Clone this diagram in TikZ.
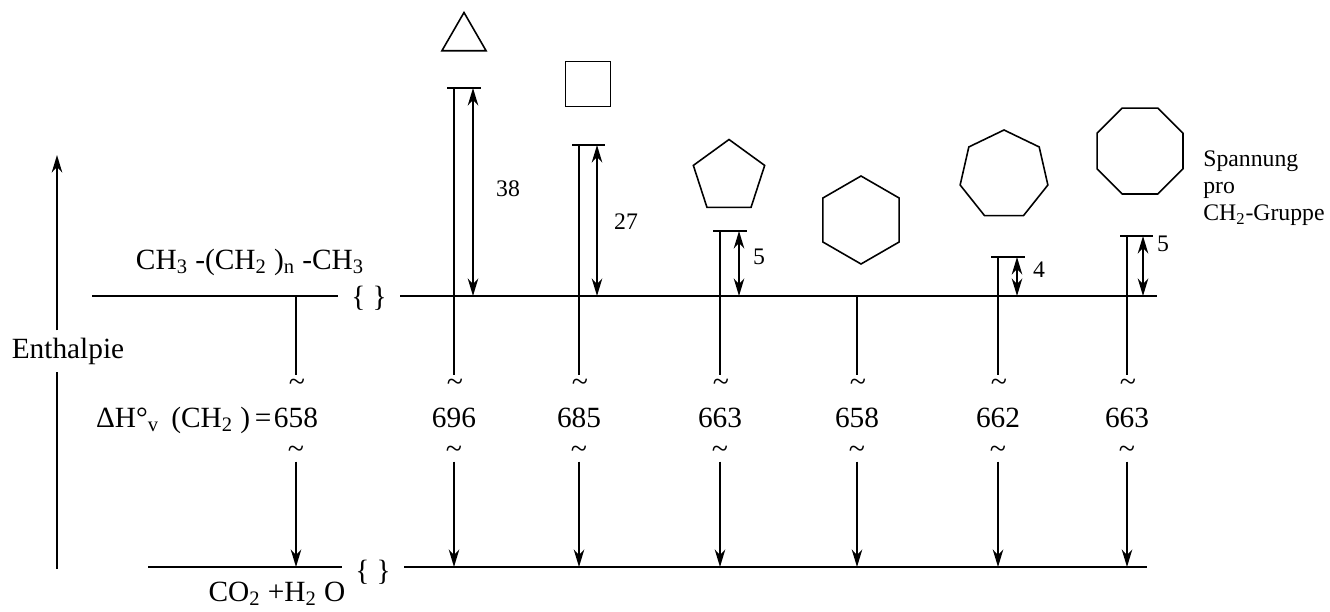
\documentclass[tikz,border=0pt]{standalone}
\usepackage{fontspec}
\setmainfont{Liberation Serif}
\usetikzlibrary{arrows.meta, calc, shapes.geometric}

\begin{document}
\begin{tikzpicture}[x=0.2mm, y=-0.2mm,
  every node/.style={font=\fontsize{16.7}{20}\selectfont},
  niveau/.style={line width=1pt},
  ring/.style={draw, regular polygon, inner sep=0pt, line width=0.9pt},
  tilde/.style={inner sep=1.8pt, font=\fontsize{17}{17}\selectfont},
  wert/.style={anchor=base, inner sep=1pt},
  klammer/.style={inner xsep=2.6mm, inner ysep=0pt},
  klein/.style={font=\fontsize{13.5}{15.6}\selectfont},
  dimarr/.style={{Stealth[length=3.5mm, width=2.1mm, inset=1.1mm]}-{Stealth[length=3.5mm, width=2.1mm, inset=1.1mm]}, line width=1pt},
  downarr/.style={-{Stealth[length=3.5mm, width=2.1mm, inset=1.1mm]}, line width=1pt}]
  \useasboundingbox (0,0) rectangle (1330,611);

  % Enthalpy axis
  \node[inner sep=4pt, anchor=base] (enth) at (68,358) {Enthalpie};
  \coordinate (ebot) at (57,569);
  \coordinate (etop) at (57,155);
  \draw[niveau] (ebot) -- (ebot |- enth.south);
  \draw[downarr] (ebot |- enth.north) -- (etop);

  % Upper level: alkane
  \coordinate (upL) at (92,296);
  \coordinate (upR) at (1157,296);
  \node[klammer] (bu) at (369,298) {\{ \}};
  \draw[niveau] (upL) -- (upL -| bu.west);
  \draw[niveau] (bu.east |- upL) -- (upR);
  \node[anchor=base] (alkan) at (250,269) {CH\textsubscript{3} -(CH\textsubscript{2} )\textsubscript{n} -CH\textsubscript{3}};

  % Lower level: combustion products
  \coordinate (lowL) at (148,567);
  \coordinate (lowR) at (1147,567);
  \node[klammer] (bl) at (373,572) {\{ \}};
  \draw[niveau] (lowL) -- (lowL -| bl.west);
  \draw[niveau] (bl.east |- lowL) -- (lowR);
  \node[anchor=base] (prod) at (277,601) {CO\textsubscript{2} +H\textsubscript{2} O};

  % Rings
  \node[ring, regular polygon sides=3, minimum size=10.2mm] (r3) at (464,38) {};
  \node[ring, regular polygon sides=4, minimum size=12.8mm] (r4) at (588,84) {};
  \node[ring, regular polygon sides=5, minimum size=15mm] (r5) at (729,177) {};
  \node[ring, regular polygon sides=6, minimum size=17.6mm, rotate=30] (r6) at (861,220) {};
  \node[ring, regular polygon sides=7, minimum size=18mm] (r7) at (1004,175) {};
  \node[ring, regular polygon sides=8, minimum size=18.6mm] (r8) at (1140,151) {};

  \node[klein, align=left, anchor=north west, inner sep=0pt] (note) at (1203,150) {Spannung\\pro\\CH\textsubscript{2}-Gruppe};

  % Strain levels
  \coordinate (s0) at (296,296);
  \coordinate (s1) at (454,88);
  \coordinate (s2) at (579,145);
  \coordinate (s3) at (720,231);
  \coordinate (s4) at (857,296);
  \coordinate (s5) at (998,257);
  \coordinate (s6) at (1127,236);

  \draw[niveau] ($(s1)+(-7,0)$) -- ($(s1)+(27,0)$);
  \draw[dimarr] ($(s1)+(19,0)$) -- ($(s1 |- upL)+(19,0)$);
  \node[klein] (d1) at (508,189) {38};

  \draw[niveau] ($(s2)+(-7,0)$) -- ($(s2)+(26,0)$);
  \draw[dimarr] ($(s2)+(18,0)$) -- ($(s2 |- upL)+(18,0)$);
  \node[klein] (d2) at (626,222) {27};

  \draw[niveau] ($(s3)+(-7,0)$) -- ($(s3)+(27,0)$);
  \draw[dimarr] ($(s3)+(19,0)$) -- ($(s3 |- upL)+(19,0)$);
  \node[klein] (d3) at (759,257) {5};

  \draw[niveau] ($(s5)+(-7,0)$) -- ($(s5)+(27,0)$);
  \draw[dimarr] ($(s5)+(19,0)$) -- ($(s5 |- upL)+(19,0)$);
  \node[klein] (d5) at (1039,270) {4};

  \draw[niveau] ($(s6)+(-7,0)$) -- ($(s6)+(26,0)$);
  \draw[dimarr] ($(s6)+(16,0)$) -- ($(s6 |- upL)+(16,0)$);
  \node[klein] (d6) at (1163,244) {5};

  % Combustion enthalpies
  \node[wert] (n0) at (296,427) {658};
  \node[anchor=base east, inner sep=0pt] (dh) at (n0.base west) {ΔH°\textsubscript{v}\, (CH\textsubscript{2} )\,=};
  \node[wert] (n1) at (454,427) {696};
  \node[wert] (n2) at (579,427) {685};
  \node[wert] (n3) at (720,427) {663};
  \node[wert] (n4) at (857,427) {658};
  \node[wert] (n5) at (998,427) {662};
  \node[wert] (n6) at (1127,427) {663};

  \node[tilde] (ta0) at (297,385) {\textasciitilde};
  \node[tilde] (ta1) at (455,385) {\textasciitilde};
  \node[tilde] (ta2) at (580,385) {\textasciitilde};
  \node[tilde] (ta3) at (721,385) {\textasciitilde};
  \node[tilde] (ta4) at (858,385) {\textasciitilde};
  \node[tilde] (ta5) at (999,385) {\textasciitilde};
  \node[tilde] (ta6) at (1128,385) {\textasciitilde};

  \node[tilde] (tb0) at (296,452) {\textasciitilde};
  \node[tilde] (tb1) at (454,452) {\textasciitilde};
  \node[tilde] (tb2) at (579,452) {\textasciitilde};
  \node[tilde] (tb3) at (720,452) {\textasciitilde};
  \node[tilde] (tb4) at (857,452) {\textasciitilde};
  \node[tilde] (tb5) at (998,452) {\textasciitilde};
  \node[tilde] (tb6) at (1127,452) {\textasciitilde};

  \draw[niveau] (s0) -- (s0 |- ta0.north);
  \draw[niveau] (s1) -- (s1 |- ta1.north);
  \draw[niveau] (s2) -- (s2 |- ta2.north);
  \draw[niveau] (s3) -- (s3 |- ta3.north);
  \draw[niveau] (s4) -- (s4 |- ta4.north);
  \draw[niveau] (s5) -- (s5 |- ta5.north);
  \draw[niveau] (s6) -- (s6 |- ta6.north);

  \draw[downarr] (tb0.south) -- (tb0.south |- lowL);
  \draw[downarr] (tb1.south) -- (tb1.south |- lowL);
  \draw[downarr] (tb2.south) -- (tb2.south |- lowL);
  \draw[downarr] (tb3.south) -- (tb3.south |- lowL);
  \draw[downarr] (tb4.south) -- (tb4.south |- lowL);
  \draw[downarr] (tb5.south) -- (tb5.south |- lowL);
  \draw[downarr] (tb6.south) -- (tb6.south |- lowL);
\end{tikzpicture}
\end{document}
